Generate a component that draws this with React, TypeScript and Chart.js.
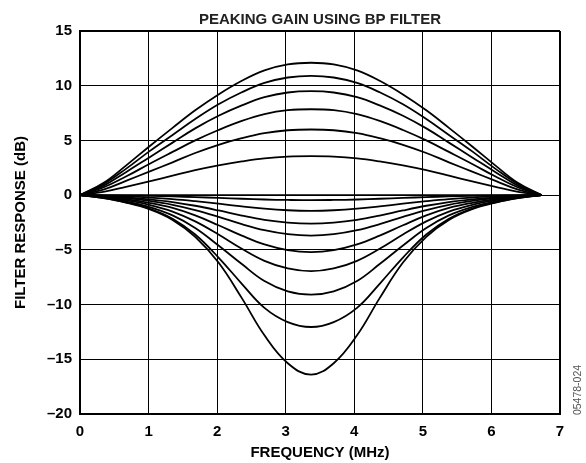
import React, { useEffect, useRef } from 'react';
import { Chart, registerables } from 'chart.js';

Chart.register(...registerables);

const chartTitle = 'PEAKING GAIN USING BP FILTER';
const xAxisTitle = 'FREQUENCY (MHz)';
const yAxisTitle = 'FILTER RESPONSE (dB)';
const figureCode = '05478-024';

const xTicks = [0, 1, 2, 3, 4, 5, 6, 7];
const yTicks = [-20, -15, -10, -5, 0, 5, 10, 15];

const freqMHz = [0, 0.34, 0.67, 1.01, 1.35, 1.68, 2.02, 2.36, 2.69, 3.03, 3.37, 3.7, 4.04, 4.37, 4.71, 5.05, 5.38, 5.72, 6.06, 6.39, 6.73];

const boost12 = [0, 1.1, 2.7, 4.45, 6.15, 7.75, 9.2, 10.45, 11.4, 11.95, 12.1, 11.95, 11.4, 10.45, 9.2, 7.75, 6.15, 4.45, 2.7, 1.1, 0];
const boost11 = [0, 1.0, 2.4, 4.0, 5.5, 6.95, 8.3, 9.4, 10.25, 10.75, 10.9, 10.75, 10.25, 9.4, 8.3, 6.95, 5.5, 4.0, 2.4, 1.0, 0];
const boost9 = [0, 0.85, 2.1, 3.45, 4.8, 6.1, 7.25, 8.2, 8.95, 9.38, 9.5, 9.38, 8.95, 8.2, 7.25, 6.1, 4.8, 3.45, 2.1, 0.85, 0];
const boost8 = [0, 0.7, 1.7, 2.85, 3.95, 5.0, 5.95, 6.78, 7.4, 7.76, 7.85, 7.76, 7.4, 6.78, 5.95, 5.0, 3.95, 2.85, 1.7, 0.7, 0];
const boost6 = [0, 0.5, 1.3, 2.15, 3.0, 3.85, 4.6, 5.2, 5.66, 5.93, 6.0, 5.93, 5.66, 5.2, 4.6, 3.85, 3.0, 2.15, 1.3, 0.5, 0];
const boost4 = [0, 0.3, 0.75, 1.25, 1.78, 2.28, 2.72, 3.08, 3.36, 3.52, 3.56, 3.52, 3.36, 3.08, 2.72, 2.28, 1.78, 1.25, 0.75, 0.3, 0];
const flat0 = [0, 0, 0, 0, 0, 0, 0, 0, 0, 0, 0, 0, 0, 0, 0, 0, 0, 0, 0, 0, 0];
const cut05 = [0, -0.02, -0.04, -0.07, -0.12, -0.18, -0.25, -0.33, -0.4, -0.44, -0.46, -0.44, -0.4, -0.33, -0.25, -0.18, -0.12, -0.07, -0.04, -0.02, 0];
const cut14 = [0, -0.05, -0.12, -0.22, -0.36, -0.55, -0.78, -1.03, -1.24, -1.38, -1.43, -1.38, -1.24, -1.03, -0.78, -0.55, -0.36, -0.22, -0.12, -0.05, 0];
const cut26 = [0, -0.08, -0.2, -0.38, -0.63, -0.97, -1.4, -1.87, -2.26, -2.51, -2.6, -2.51, -2.26, -1.87, -1.4, -0.97, -0.63, -0.38, -0.2, -0.08, 0];
const cut37 = [0, -0.11, -0.28, -0.53, -0.88, -1.36, -1.98, -2.65, -3.2, -3.57, -3.7, -3.57, -3.2, -2.65, -1.98, -1.36, -0.88, -0.53, -0.28, -0.11, 0];
const cut52 = [0, -0.14, -0.36, -0.7, -1.17, -1.85, -2.75, -3.7, -4.5, -5.02, -5.2, -5.02, -4.5, -3.7, -2.75, -1.85, -1.17, -0.7, -0.36, -0.14, 0];
const cut70 = [0, -0.18, -0.46, -0.88, -1.5, -2.4, -3.6, -4.9, -6.0, -6.7, -6.95, -6.7, -6.0, -4.9, -3.6, -2.4, -1.5, -0.88, -0.46, -0.18, 0];
const cut91 = [0, -0.22, -0.56, -1.08, -1.85, -3.0, -4.6, -6.3, -7.85, -8.8, -9.1, -8.8, -7.85, -6.3, -4.6, -3.0, -1.85, -1.08, -0.56, -0.22, 0];
const cut120 = [0, -0.25, -0.65, -1.22, -2.15, -3.6, -5.7, -8.1, -10.3, -11.6, -12.05, -11.6, -10.3, -8.1, -5.7, -3.6, -2.15, -1.22, -0.65, -0.25, 0];
const cut164 = [0, -0.28, -0.68, -1.28, -2.26, -3.81, -6.16, -9.41, -12.81, -15.36, -16.4, -15.36, -12.81, -9.41, -6.16, -3.81, -2.26, -1.28, -0.68, -0.28, 0];

const allSeries = [boost12, boost11, boost9, boost8, boost6, boost4, flat0, cut05, cut14, cut26, cut37, cut52, cut70, cut91, cut120, cut164];

const FONT = "Arial, 'Liberation Sans', Helvetica, sans-serif";

const extraText = {
  id: 'extraText',
  afterDraw(chart: any) {
    const { ctx, chartArea } = chart;
    ctx.save();
    ctx.font = `bold 15px ${FONT}`;
    ctx.fillStyle = '#222';
    ctx.textAlign = 'center';
    ctx.textBaseline = 'middle';
    ctx.fillText(chartTitle, (chartArea.left + chartArea.right) / 2, 19.5);
    ctx.translate(578, 390);
    ctx.rotate(-Math.PI / 2);
    ctx.font = `10.5px ${FONT}`;
    ctx.fillStyle = '#555';
    ctx.fillText(figureCode, 0, 0);
    ctx.restore();
  },
};

export default function App() {
  const ref = useRef<HTMLCanvasElement>(null);
  useEffect(() => {
    if (!ref.current) return;
    const chart = new Chart(ref.current, {
      type: 'line',
      data: {
        datasets: allSeries.map((s) => ({
          data: s.map((v, i) => ({ x: freqMHz[i], y: v })),
          borderColor: '#000',
          borderWidth: 1.8,
          pointRadius: 0,
          fill: false,
          tension: 0.4,
        })),
      },
      options: {
        animation: false,
        responsive: false,
        events: [],
        layout: { padding: { top: 31, right: 26, left: 0, bottom: 0 } },
        plugins: { legend: { display: false }, tooltip: { enabled: false }, title: { display: false } },
        scales: {
          x: {
            type: 'linear',
            min: xTicks[0],
            max: xTicks[xTicks.length - 1],
            afterBuildTicks: (s: any) => { s.ticks = xTicks.map((v) => ({ value: v })); },
            afterFit: (s: any) => { s.height = 49; },
            ticks: { color: '#000', font: { family: FONT, size: 15, weight: 'bold' }, padding: 9, maxRotation: 0 },
            grid: {
              color: '#000',
              lineWidth: (c: any) => (c.tick && c.tick.value === xTicks[xTicks.length - 1] ? 2 : 1),
              drawTicks: false,
            },
            border: { color: '#000', width: 2 },
            title: { display: true, text: xAxisTitle, color: '#000', font: { family: FONT, size: 15, weight: 'bold' }, padding: { top: 0, bottom: 1 } },
          },
          y: {
            type: 'linear',
            min: yTicks[0],
            max: yTicks[yTicks.length - 1],
            afterBuildTicks: (s: any) => { s.ticks = yTicks.map((v) => ({ value: v })); },
            afterFit: (s: any) => { s.width = 80; },
            ticks: {
              color: '#000',
              font: { family: FONT, size: 15, weight: 'bold' },
              padding: 8,
              callback: (v: any) => (Number(v) < 0 ? '\u2013' + Math.abs(Number(v)) : String(v)),
            },
            grid: {
              color: '#000',
              lineWidth: (c: any) => (c.tick && c.tick.value === yTicks[yTicks.length - 1] ? 2 : 1),
              drawTicks: false,
            },
            border: { color: '#000', width: 2 },
            title: { display: true, text: yAxisTitle, color: '#000', font: { family: FONT, size: 15, weight: 'bold' }, padding: { top: 12, bottom: 0 } },
          },
        },
      },
      plugins: [extraText],
    } as any);
    return () => chart.destroy();
  }, []);
  return (
    <div style={{ position: 'fixed', left: 0, top: 0, width: 586, height: 463, background: '#fff' }}>
      <canvas ref={ref} width={586} height={463} />
    </div>
  );
}
